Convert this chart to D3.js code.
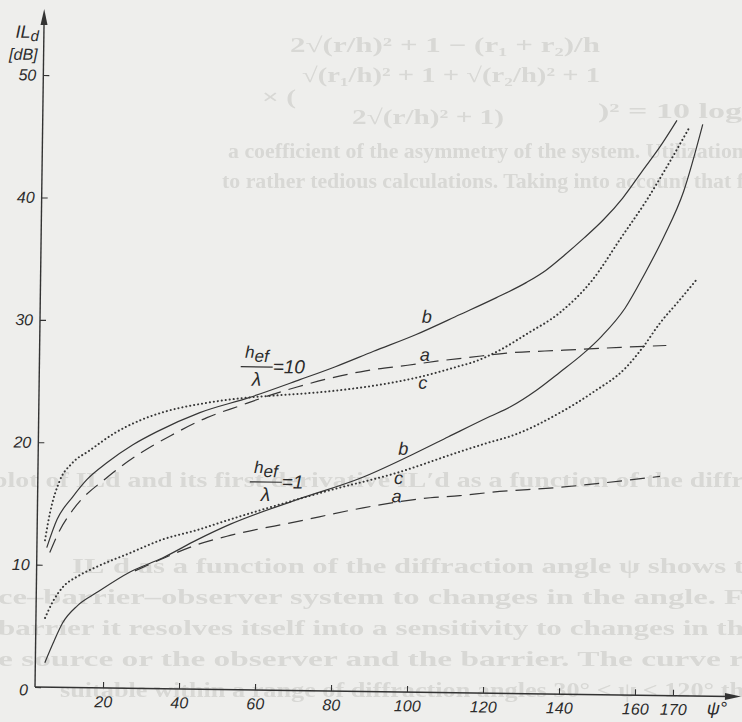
<!DOCTYPE html>
<html>
<head>
<meta charset="utf-8">
<script src="https://cdn.jsdelivr.net/npm/d3@7"></script>
<style>
  html, body { margin: 0; padding: 0; background: #eeeeec; }
  svg { display: block; }
  .lbl { font-family: "Liberation Sans", Arial, sans-serif; font-style: italic; fill: #2b2b2b; }
  .ghost { font-family: "Liberation Serif", serif; font-weight: bold; fill: #d8d8d5; font-size: 21px; }
</style>
</head>
<body>
<svg id="chart" width="742" height="722"></svg>
<script>
// IL_d against diffraction angle psi, for h_ef/lambda = 10 and 1 (curves a, b, c)

const psiTicks = [20, 40, 60, 80, 100, 120, 140, 160, 170];
const dbTicks = [0, 10, 20, 30, 40, 50];

// [psi in degrees, IL_d in dB]
const b10 = [[4.7, 11.4], [7.3, 13.7], [11.4, 15.6], [15, 17.0], [20.2, 18.4], [27, 19.9], [33.3, 21.0],
  [44.5, 22.6], [57.6, 23.9], [70.7, 25.4], [80, 26.5], [90, 27.8], [101, 29.2], [112.6, 30.9], [122, 32.3],
  [130, 33.6], [135, 34.6], [140, 35.9], [145, 37.3], [150, 38.8], [155, 40.6], [160, 42.8], [165, 45.0], [169, 47.0]];
const a10 = [[5.5, 11.0], [8, 12.8], [11.4, 14.5], [20.3, 17.2], [28.9, 19.2], [37, 20.7], [46.4, 22.2],
  [55, 23.2], [62, 24.0], [70, 24.8], [78, 25.5], [88, 26.2], [99, 26.7], [107.5, 27.1], [115, 27.4],
  [125, 27.8], [140, 28.1], [155, 28.4], [167, 28.6]];
const c10 = [[4.2, 12.0], [5.4, 14.2], [7.9, 16.9], [11, 18.3], [15.7, 19.4], [22, 20.8], [28.8, 21.9],
  [36, 22.7], [44.5, 23.3], [57.6, 23.9], [65, 24.1], [76, 24.4], [88.4, 24.9], [101.5, 25.7], [112.8, 26.7],
  [116, 27.0], [123, 28.0], [130.3, 29.4], [139, 31.2], [147.4, 33.9], [154.4, 37.2], [161.4, 40.5],
  [166.5, 43.2], [172.4, 46.5]];
const b1 = [[4.6, 2.0], [6.7, 3.6], [9.2, 5.3], [13, 6.7], [18.1, 7.8], [26.7, 9.5], [35.3, 10.7], [44.2, 12.2],
  [52.8, 13.5], [70.4, 15.6], [87.6, 17.5], [101.8, 19.6], [110, 20.9], [120.8, 22.6], [126.1, 23.4],
  [133, 24.8], [139.1, 26.3], [145, 27.8], [150, 29.3], [156, 31.6], [161, 34.4], [166, 37.5], [171, 41.2],
  [175.8, 46.7]];
const a1 = [[28, 9.6], [35, 10.6], [44.2, 11.8], [52.9, 12.6], [70.4, 13.8], [87.8, 15.0], [105.4, 15.9],
  [113.2, 16.1], [121.1, 16.4], [139.5, 16.9], [165.8, 17.9]];
const c1 = [[4.5, 5.65], [6.5, 7.0], [9.1, 8.2], [13, 9.1], [18, 9.9], [26.6, 11.05], [35.2, 12.2], [44.2, 13.0],
  [52.8, 13.9], [65, 15.1], [79, 16.4], [96.6, 17.9], [113.1, 19.7], [120.9, 20.5], [126.2, 21.0],
  [139.3, 23.0], [147.9, 24.7], [156.6, 26.8], [161, 28.5], [165.2, 30.4], [170, 32.2], [174.7, 34.0]];

// curve letters and the two h_ef/lambda captions, in data units
const curveLabels = [['b', 103.9, 30.7], ['a', 103.5, 27.6], ['c', 103.1, 25.3],
  ['b', 98.2, 19.9], ['c', 97.0, 17.5], ['a', 96.6, 16.0]];
const ratioLabels = [['10', 59.3, 26.4], ['1', 62.1, 17.0]];

const ink = '#333';
const svg = d3.select('#chart');

svg.append('defs').append('filter').attr('id', 'soft')
  .append('feGaussianBlur').attr('stdDeviation', 0.7);

// show-through from the other side of the page: text, left x, baseline y, width
const ghostLines = [
  ['2√(r/h)² + 1 − (r₁ + r₂)/h', 290, 52, 310],
  ['√(r₁/h)² + 1 + √(r₂/h)² + 1', 302, 82, 298],
  ['× (', 262, 104, 34],
  ['2√(r/h)² + 1)', 352, 124, 152],
  [')²  = 10 log', 598, 118, 144],
  ['a coefficient of the asymmetry of the system. Utilization', 228, 158, 516],
  ['to rather tedious calculations. Taking into account that f', 222, 188, 522],
  ['plot of ILd and its first  derivative IL′d as a function of the diffr', -8, 487, 752],
  ['IL′d as a function of the diffraction angle ψ shows t', 72, 573, 672],
  ['ce–barrier–observer system to changes in the angle. F', -2, 604, 746],
  ['barrier it resolves itself into a sensitivity to changes in th', -2, 635, 746],
  ['e source or the observer and the barrier. The curve r', -2, 666, 746],
  ['suitable within a range of diffraction angles 30° < ψ < 120° th', 60, 697, 684]
];
svg.append('g').attr('filter', 'url(#soft)')
  .selectAll('text').data(ghostLines).join('text')
  .attr('class', 'ghost')
  .attr('x', d => d[1])
  .attr('y', d => d[2])
  .attr('textLength', d => d[3])
  .attr('lengthAdjust', 'spacingAndGlyphs')
  .text(d => d[0]);

// the scan is turned a little clockwise
const g = svg.append('g').attr('transform', 'rotate(0.78,35,687)');

const x = d3.scaleLinear().domain([0, 180]).range([27, 711]);
const y = d3.scaleLinear().domain([0, 50]).range([687, 75]);

const xAxis = g.append('g')
  .attr('transform', 'translate(0,687)')
  .call(d3.axisBottom(x).tickValues(psiTicks).tickSize(-6).tickPadding(8));
const yAxis = g.append('g')
  .attr('transform', 'translate(35,0)')
  .call(d3.axisLeft(y).tickValues(dbTicks).tickSize(-6).tickPadding(7));

[xAxis, yAxis].forEach(ax => {
  ax.select('.domain').remove();
  ax.attr('font-family', '"Liberation Sans", Arial, sans-serif').attr('font-size', 16);
  ax.selectAll('.tick line').attr('stroke', ink).attr('stroke-width', 1.1);
  ax.selectAll('.tick text').attr('fill', '#2b2b2b').attr('font-style', 'italic');
});
yAxis.selectAll('.tick').filter(d => d === 0).select('text').attr('dy', '0.5em');

g.append('line').attr('x1', 35).attr('y1', 687).attr('x2', 35).attr('y2', 20)
  .attr('stroke', ink).attr('stroke-width', 1.4);
g.append('path').attr('d', 'M35,9 L31.5,25 L38.5,25 Z').attr('fill', ink);
g.append('line').attr('x1', 35).attr('y1', 687).attr('x2', 730).attr('y2', 687)
  .attr('stroke', ink).attr('stroke-width', 1.4);
g.append('path').attr('d', 'M741,687 L725,683.5 L725,690.5 Z').attr('fill', ink);

g.append('text').attr('class', 'lbl').attr('x', 30).attr('y', 38)
  .attr('text-anchor', 'end').attr('font-size', 18)
  .call(t => {
    t.append('tspan').text('IL');
    t.append('tspan').attr('dy', 3).attr('font-size', 15).text('d');
  });
g.append('text').attr('class', 'lbl').attr('x', 29).attr('y', 60)
  .attr('text-anchor', 'end').attr('font-size', 16).text('[dB]');
g.append('text').attr('class', 'lbl').attr('x', 707).attr('y', 705)
  .attr('font-size', 18).text('ψ°');

const line = d3.line()
  .x(d => x(d[0]))
  .y(d => y(d[1]))
  .curve(d3.curveMonotoneX);

const styles = {
  solid: { width: 1.2, dash: null, cap: 'butt' },
  dash: { width: 1.2, dash: '15,8', cap: 'butt' },
  dot: { width: 2, dash: '0.1,3.9', cap: 'round' }
};

const curves = [
  { data: b10, style: 'solid' }, { data: a10, style: 'dash' }, { data: c10, style: 'dot' },
  { data: b1, style: 'solid' }, { data: a1, style: 'dash' }, { data: c1, style: 'dot' }
];

curves.forEach(c => {
  const s = styles[c.style];
  g.append('path')
    .attr('d', line(c.data))
    .attr('fill', 'none')
    .attr('stroke', '#363636')
    .attr('stroke-width', s.width)
    .attr('stroke-dasharray', s.dash)
    .attr('stroke-linecap', s.cap);
});

g.selectAll('.curve-label').data(curveLabels).join('text')
  .attr('class', 'lbl curve-label')
  .attr('x', d => x(d[1]))
  .attr('y', d => y(d[2]))
  .attr('dy', '0.35em')
  .attr('text-anchor', 'middle')
  .attr('font-size', 18)
  .text(d => d[0]);

ratioLabels.forEach(([val, psi, db]) => {
  const lg = g.append('g').attr('transform', `translate(${x(psi)},${y(db)})`);
  lg.append('line').attr('x1', -16).attr('x2', 16).attr('y1', 0).attr('y2', 0)
    .attr('stroke', ink).attr('stroke-width', 1.2);
  lg.append('text').attr('class', 'lbl').attr('x', 0).attr('y', -6)
    .attr('text-anchor', 'middle').attr('font-size', 17)
    .call(t => {
      t.append('tspan').attr('dy', -3).text('h');
      t.append('tspan').attr('dy', 4).text('ef');
    });
  lg.append('text').attr('class', 'lbl').attr('x', 0).attr('y', 19)
    .attr('text-anchor', 'middle').attr('font-size', 19).text('λ');
  lg.append('text').attr('class', 'lbl').attr('x', 16).attr('y', 6)
    .attr('font-size', 19).text('=' + val);
});
</script>
</body>
</html>
